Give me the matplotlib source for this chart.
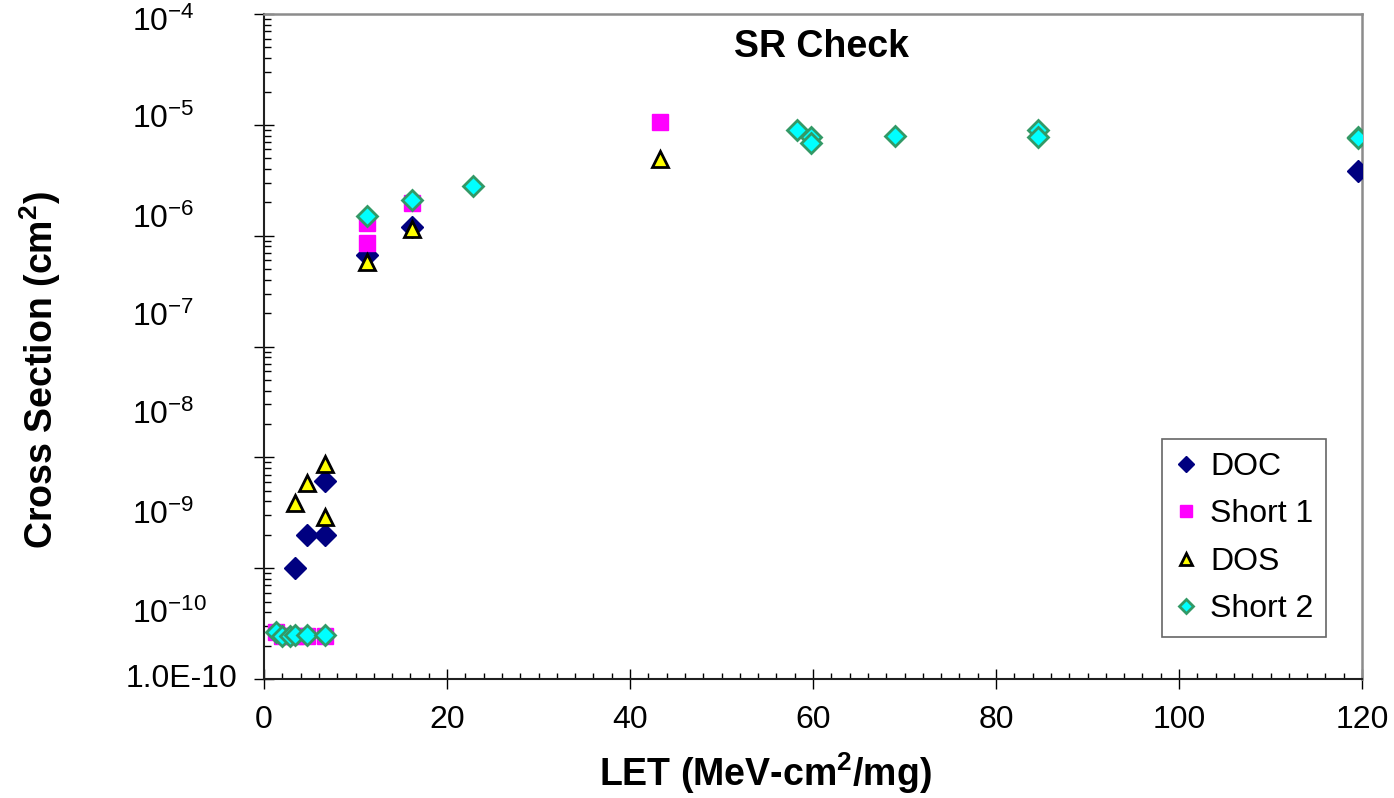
import numpy as np
import matplotlib
matplotlib.use('Agg')
import matplotlib.pyplot as plt
from matplotlib.ticker import MultipleLocator, LogLocator, NullFormatter

plt.rcParams['font.family'] = ['Liberation Sans', 'DejaVu Sans']
plt.rcParams['mathtext.default'] = 'regular'

# ================= data =================
doc_let = [3.4, 4.7, 6.7, 6.7, 11.3, 16.2, 119.5]
doc_xs = [1.0e-9, 2.0e-9, 2.0e-9, 6.1e-9, 6.7e-7, 1.2e-6, 3.85e-6]

short1_let = [1.3, 2.0, 2.8, 3.4, 4.7, 6.7, 11.3, 11.3, 16.2, 43.3]
short1_xs = [2.63e-10, 2.44e-10, 2.44e-10, 2.44e-10, 2.44e-10, 2.44e-10,
             1.3e-6, 8.6e-7, 1.98e-6, 1.06e-5]

dos_let = [3.4, 4.7, 6.7, 6.7, 11.3, 16.2, 43.3]
dos_xs = [3.9e-9, 5.9e-9, 8.7e-9, 2.9e-9, 5.8e-7, 1.15e-6, 4.9e-6]

short2_let = [1.3, 2.0, 2.8, 3.4, 4.7, 6.7, 11.3, 16.2, 22.8,
              58.3, 59.8, 59.8, 69.0, 84.6, 84.6, 119.5, 119.5]
short2_xs = [2.63e-10, 2.44e-10, 2.44e-10, 2.5e-10, 2.5e-10, 2.5e-10,
             1.5e-6, 2.1e-6, 2.8e-6,
             8.9e-6, 7.7e-6, 6.9e-6, 7.9e-6, 9.0e-6, 7.8e-6, 7.8e-6, 7.6e-6]

# y labels as drawn in the original (Excel put them off the ticks)
ylab_text = ['$10^{-4}$', '$10^{-5}$', '$10^{-6}$', '$10^{-7}$',
             '$10^{-8}$', '$10^{-9}$', '$10^{-10}$']
ylab_pos = [0.988, 0.841, 0.691, 0.544, 0.397, 0.246, 0.098]

# ================= figure =================
fig = plt.figure(figsize=(13.94, 7.98), dpi=100)
ax = fig.add_axes([0.1894, 0.1491, 0.7877, 0.8333])

ax.plot(doc_let, doc_xs, linestyle='none', marker='D', ms=11,
        mfc='#000080', mec='#000080', mew=1, label='DOC', zorder=3)
ax.plot(short1_let, short1_xs, linestyle='none', marker='s', ms=12,
        mfc='#FF00FF', mec='#FF00FF', mew=1, label='Short 1', zorder=4)
ax.plot(dos_let, dos_xs, linestyle='none', marker='^', ms=12,
        mfc='#FFFF00', mec='black', mew=2, label='DOS', zorder=5)
ax.plot(short2_let, short2_xs, linestyle='none', marker='D', ms=10,
        mfc='#00FFFF', mec='#339966', mew=2, label='Short 2', zorder=6)

ax.set_yscale('log')
ax.set_xlim(0, 120)
ax.set_ylim(1e-10, 1e-4)

ax.xaxis.set_major_locator(MultipleLocator(20))
ax.xaxis.set_minor_locator(MultipleLocator(2))
ax.yaxis.set_major_locator(LogLocator(base=10, numticks=20))
ax.yaxis.set_minor_locator(LogLocator(base=10, subs=np.arange(2, 10), numticks=20))
ax.yaxis.set_major_formatter(NullFormatter())
ax.yaxis.set_minor_formatter(NullFormatter())

ax.tick_params(axis='both', which='major', direction='inout', length=14,
               width=1, color='black', labelsize=23, pad=12)
ax.tick_params(axis='both', which='minor', direction='in', length=5,
               width=1, color='black')
ax.tick_params(axis='x', which='minor', length=4)

for s in ['left', 'bottom']:
    ax.spines[s].set_color('#202020')
    ax.spines[s].set_linewidth(1.5)
for s in ['top', 'right']:
    ax.spines[s].set_color('#8c8c8c')
    ax.spines[s].set_linewidth(1.8)

for txt, pos in zip(ylab_text, ylab_pos):
    ax.text(-0.1202, pos, txt, transform=ax.transAxes, fontsize=23,
            ha='left', va='center')
ax.text(-0.0246, 0.0, '1.0E-10', transform=ax.transAxes, fontsize=23,
        ha='right', va='center')

ax.set_xlabel('LET (MeV-cm$^{2}$/mg)', fontsize=27, fontweight='bold',
              va='center')
ax.set_ylabel('Cross Section (cm$^{2}$)', fontsize=27, fontweight='bold',
              va='center')
ax.xaxis.set_label_coords(0.457, -0.141)
ax.yaxis.set_label_coords(-0.204, 0.465)

ax.text(0.508, 0.95, 'SR Check', transform=ax.transAxes, fontsize=27,
        fontweight='bold', ha='center', va='center')

leg = ax.legend(loc='upper left', bbox_to_anchor=(0.818, 0.361), fontsize=23,
                frameon=True, fancybox=False, edgecolor='#404040',
                markerscale=0.75, handlelength=0.7, handletextpad=0.4,
                labelspacing=0.55, borderpad=0.4, borderaxespad=0)
leg.get_frame().set_linewidth(1.2)

fig.savefig('out.png', dpi=100)
